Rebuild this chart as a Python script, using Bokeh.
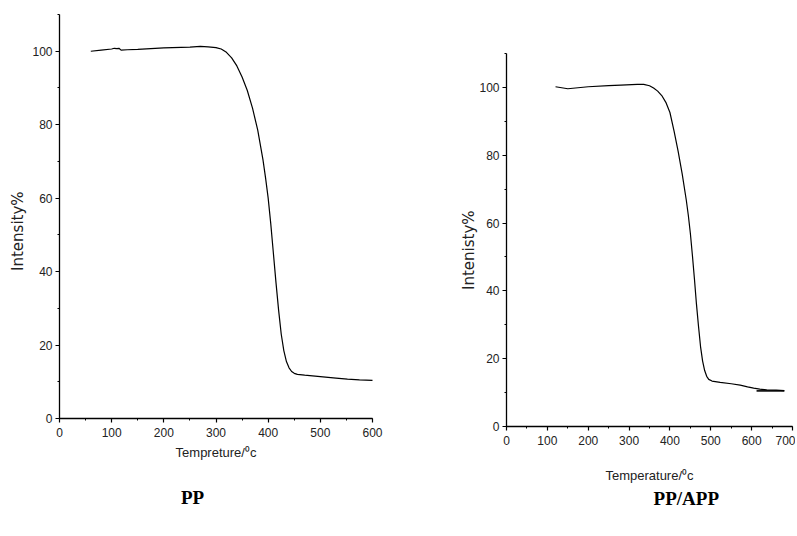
import math
from bokeh.plotting import figure
from bokeh.models import SingleIntervalTicker, Range1d, Label, LinearAxis
from bokeh.embed import file_html
from bokeh.resources import INLINE

# ---- data ----
pp_temp = [60, 80, 100, 105, 110, 114, 118, 130, 150, 200, 250, 270, 285, 300, 310, 320, 330, 340,
           350, 360, 370, 380, 390, 395, 400, 405, 410, 415, 420, 425, 430, 435, 440, 445, 450, 456,
           470, 500, 530, 552, 575, 600]
pp_mass = [100.0, 100.3, 100.6, 100.8, 100.7, 100.8, 100.3, 100.4, 100.5, 100.9, 101.1, 101.3, 101.2,
           101.0, 100.6, 99.7, 98.2, 96.0, 93.0, 89.3, 84.5, 78.5, 70.5, 65.5, 60.0, 53.0, 45.0, 37.0,
           29.5, 23.0, 18.5, 15.5, 13.8, 12.8, 12.3, 12.0, 11.8, 11.4, 11.0, 10.7, 10.5, 10.4]

app_temp = [120, 135, 150, 175, 200, 250, 280, 320, 336, 350, 360, 370, 380, 390, 400, 410, 420, 430,
            440, 445, 450, 455, 460, 465, 470, 475, 480, 485, 490, 495, 503, 523, 550, 572, 590, 605,
            620, 637, 660, 680]
app_mass = [100.2, 99.9, 99.6, 99.9, 100.2, 100.5, 100.7, 100.9, 100.9, 100.5, 99.8, 98.9, 97.6, 95.6,
            92.6, 87.2, 81.2, 74.5, 66.8, 62.3, 57.0, 50.5, 43.5, 36.0, 29.5, 23.5, 19.3, 16.5, 14.8,
            13.9, 13.4, 13.0, 12.6, 12.2, 11.7, 11.3, 11.0, 10.8, 10.7, 10.6]
app_tail_temp = [612, 680]
app_tail_mass = [10.5, 10.5]

pp_x_extent = (0, 600)
app_x_extent = (0, 700)
y_extent = (0, 110)
x_tick_step = 100
y_tick_step = 20

# ---- layout geometry (canvas pixels) ----
W, H = 795, 528
L_x0, L_x1 = 59, 372      # x=0 and x=600
L_y0, L_y1 = 418, 14      # y=0 and y=110
R_x0, R_x1 = 506, 792     # x=0 and x=700
R_y0, R_y1 = 426, 53      # y=0 and y=110


def make_range(v0, v1, p0, p1, total, invert=False):
    k = (v1 - v0) / (p1 - p0)
    if invert:
        top = v0 + (0 - p0) * k
        bot = v0 + (total - p0) * k
        return Range1d(bot, top)
    return Range1d(v0 + (0 - p0) * k, v0 + (total - p0) * k)


p = figure(width=W, height=H, output_backend="svg", toolbar_location=None,
           x_axis_type=None, y_axis_type=None, min_border=0,
           x_range=make_range(pp_x_extent[0], pp_x_extent[1], L_x0, L_x1, W),
           y_range=make_range(y_extent[0], y_extent[1], L_y0, L_y1, H, invert=True))
p.extra_x_ranges = {"r": make_range(app_x_extent[0], app_x_extent[1], R_x0, R_x1, W)}
p.extra_y_ranges = {"r": make_range(y_extent[0], y_extent[1], R_y0, R_y1, H, invert=True)}
p.grid.visible = False
p.outline_line_color = None
p.background_fill_color = "white"
p.border_fill_color = "white"
p.title.visible = False

TICK_FONT = "Liberation Sans Narrow, Liberation Sans"


def style_axis(ax):
    ax.axis_line_color = "black"
    ax.axis_line_width = 1.3
    ax.major_tick_line_color = "black"
    ax.minor_tick_line_color = "black"
    ax.major_tick_line_width = 1.2
    ax.minor_tick_line_width = 1.0
    ax.major_tick_out = 4
    ax.major_tick_in = 0
    ax.minor_tick_out = 2
    ax.minor_tick_in = 0
    ax.major_label_text_font = TICK_FONT
    ax.major_label_text_font_size = "12px"
    ax.major_label_text_color = "#222222"


def add_axes(xr, yr, xb):
    xa = LinearAxis(x_range_name=xr, y_range_name=yr, fixed_location=0, bounds=xb,
                    ticker=SingleIntervalTicker(interval=x_tick_step, num_minor_ticks=2))
    ya = LinearAxis(x_range_name=xr, y_range_name=yr, fixed_location=0, bounds=y_extent,
                    ticker=SingleIntervalTicker(interval=y_tick_step, num_minor_ticks=2))
    style_axis(xa)
    style_axis(ya)
    xa.major_label_standoff = 5
    ya.major_label_standoff = 3
    p.add_layout(xa, "below")
    p.add_layout(ya, "left")


add_axes("default", "default", pp_x_extent)
add_axes("r", "r", app_x_extent)

p.line(pp_temp, pp_mass, line_color="black", line_width=1.2)
p.line(app_temp, app_mass, line_color="black", line_width=1.2, x_range_name="r", y_range_name="r")
p.line(app_tail_temp, app_tail_mass, line_color="black", line_width=1.6,
       x_range_name="r", y_range_name="r")


def text(t, x, y, xr="default", yr="default", font="Liberation Sans", size="13px",
         style="normal", angle=0.0, color="#222222"):
    p.add_layout(Label(x=x, y=y, x_range_name=xr, y_range_name=yr, text=t,
                       text_font=font, text_font_size=size, text_font_style=style,
                       text_align="center", text_baseline="middle", angle=angle,
                       text_color=color))


# axis titles and panel captions (positions in each panel's data space)
text("Intensity%", -79, 51, font="DejaVu Sans", size="15px", angle=math.pi / 2)
text("Tempreture/\u2070c", 300, -9.3, font=TICK_FONT, size="13px")
text("PP", 255, -21.5, font="Liberation Serif", size="19px", style="bold", color="black")

text("Intenisty%", -93, 52, xr="r", yr="r", font="DejaVu Sans", size="15px", angle=math.pi / 2)
text("Temperature/\u2070c", 350, -14.5, xr="r", yr="r", font=TICK_FONT, size="13px")
text("PP/APP", 440, -21.2, xr="r", yr="r", font="Liberation Serif", size="19px", style="bold",
     color="black")

open("out.html", "w").write(file_html(p, INLINE))
